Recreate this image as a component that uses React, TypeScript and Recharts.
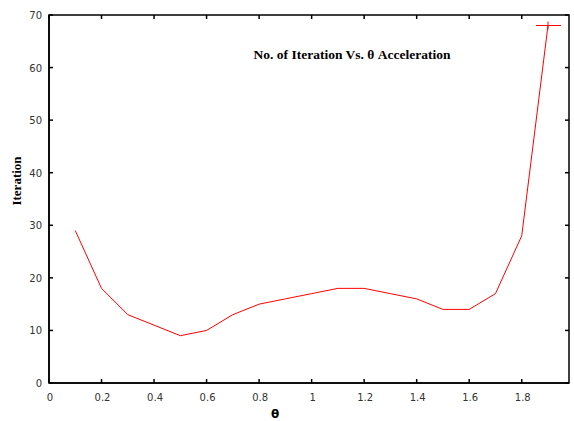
import { Line, LineChart, ReferenceArea, XAxis, YAxis } from "recharts";

const theta = [0.1, 0.2, 0.3, 0.4, 0.5, 0.6, 0.7, 0.8, 0.9, 1.0, 1.1, 1.2, 1.3, 1.4, 1.5, 1.6, 1.7, 1.8, 1.9];
const iterations = [29, 18, 13, 11, 9, 10, 13, 15, 16, 17, 18, 18, 17, 16, 14, 14, 17, 28, 68];
const xTicks = [0, 0.2, 0.4, 0.6, 0.8, 1, 1.2, 1.4, 1.6, 1.8];
const yTicks = [0, 10, 20, 30, 40, 50, 60, 70];

const data = theta.map((t, i) => ({ theta: t, iter: iterations[i] }));

// layout
const W = 574;
const H = 421;
const M = { top: 15, right: 5, bottom: 0, left: 0 };
const PLOT_TOP = M.top;
const PLOT_RIGHT = W - M.right;

const tickFont = { fontFamily: "DejaVu Sans", fontSize: 10, fill: "#333" };
const fmt = (v: number) => String(Math.round(v * 10) / 10);

// bottom ticks, mirrored on the top border
function BottomTick({ x, y, payload }: any) {
  return (
    <g>
      <line x1={x} x2={x} y1={y} y2={y - 4} stroke="#000" strokeWidth={1.5} />
      <line x1={x} x2={x} y1={PLOT_TOP} y2={PLOT_TOP + 4} stroke="#000" strokeWidth={1.5} />
      <text x={x + 1} y={y + 18} textAnchor="middle" {...tickFont}>
        {fmt(payload.value)}
      </text>
    </g>
  );
}

// left ticks, mirrored on the right border
function LeftTick({ x, y, payload }: any) {
  return (
    <g>
      <line x1={x} x2={x + 4} y1={y} y2={y} stroke="#000" strokeWidth={1.5} />
      <line x1={PLOT_RIGHT} x2={PLOT_RIGHT - 4} y1={y} y2={y} stroke="#000" strokeWidth={1.5} />
      <text x={x - 7} y={y + 4} textAnchor="end" {...tickFont}>
        {payload.value}
      </text>
    </g>
  );
}

function EndCross(props: any) {
  const { cx, cy, index } = props;
  if (index !== data.length - 1) return <g key={`d${index}`} />;
  return (
    <g key={`d${index}`}>
      <line x1={cx - 12} x2={cx + 13} y1={cy} y2={cy} stroke="#ff0000" strokeWidth={1} />
      <line x1={cx} x2={cx} y1={cy - 4} y2={cy + 4} stroke="#ff0000" strokeWidth={1} />
    </g>
  );
}

const axisLine = { stroke: "#000", strokeWidth: 1.5 };

export default function App() {
  return (
    <div style={{ position: "absolute", left: 0, top: 0, width: W, height: H, background: "#fff" }}>
      <LineChart width={W} height={H} data={data} margin={M}>
        <XAxis
          dataKey="theta"
          type="number"
          domain={[0, 1.98]}
          ticks={xTicks}
          interval={0}
          height={38}
          tickSize={0}
          tickMargin={0}
          tickLine={false}
          axisLine={axisLine}
          tick={BottomTick}
        />
        <YAxis
          type="number"
          domain={[0, 70]}
          ticks={yTicks}
          interval={0}
          width={49}
          tickSize={0}
          tickMargin={0}
          tickLine={false}
          axisLine={axisLine}
          tick={LeftTick}
        />
        <ReferenceArea
          x1={0}
          x2={1.98}
          y1={0}
          y2={70}
          fill="none"
          fillOpacity={0}
          stroke="#000"
          strokeWidth={1.5}
          strokeOpacity={1}
        />
        <Line
          dataKey="iter"
          stroke="#ff0000"
          strokeWidth={1}
          dot={EndCross}
          activeDot={false}
          isAnimationActive={false}
        />
      </LineChart>
      <svg
        width={W}
        height={H}
        style={{ position: "absolute", left: 0, top: 0, pointerEvents: "none" }}
      >
        <text
          x={352}
          y={58.5}
          textAnchor="middle"
          fontFamily="Liberation Serif"
          fontWeight="bold"
          fontSize={13.5}
          fill="#000"
        >
          No. of Iteration Vs. θ Acceleration
        </text>
        <text
          x={21}
          y={181}
          transform="rotate(-90 21 181)"
          textAnchor="middle"
          fontFamily="Liberation Serif"
          fontWeight="bold"
          fontSize={13}
          fill="#000"
        >
          Iteration
        </text>
        <text
          x={275}
          y={418}
          textAnchor="middle"
          fontFamily="DejaVu Sans"
          fontWeight="bold"
          fontSize={12}
          fill="#000"
        >
          θ
        </text>
      </svg>
    </div>
  );
}
